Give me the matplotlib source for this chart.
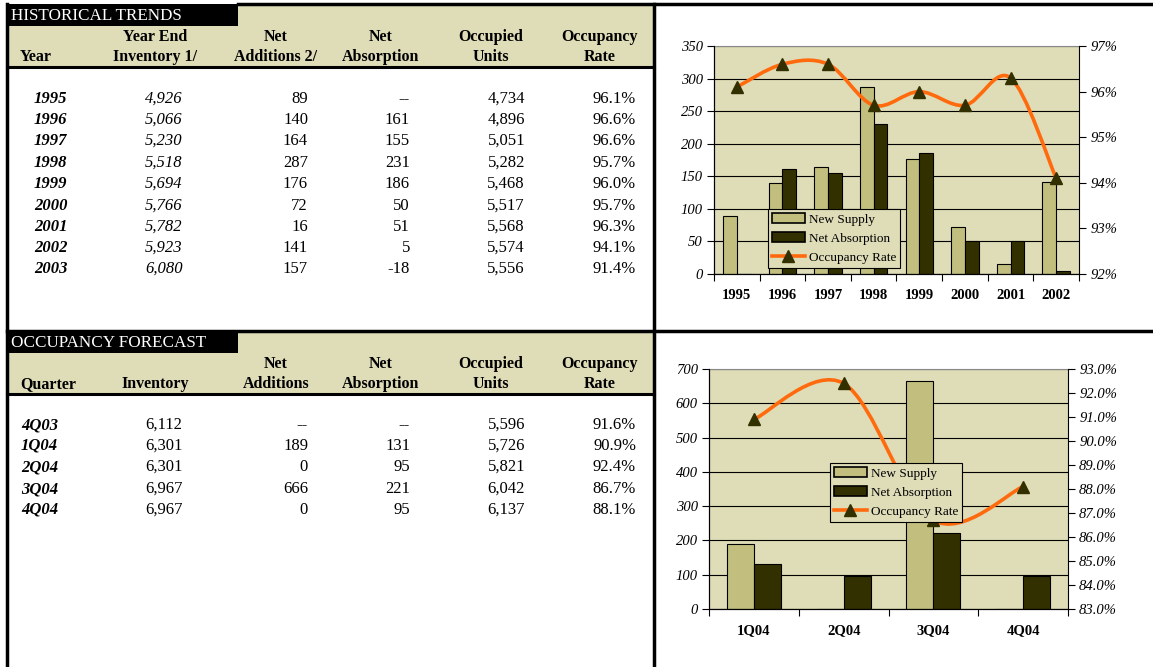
import numpy as np
import matplotlib
matplotlib.use('Agg')
import matplotlib.pyplot as plt
from matplotlib.patches import Rectangle, Patch, PathPatch
from matplotlib.lines import Line2D
from matplotlib.path import Path

plt.rcParams['font.family'] = ['Liberation Serif', 'DejaVu Serif']

# historical table
hist_years = ['1995', '1996', '1997', '1998', '1999', '2000', '2001', '2002', '2003']
hist_inventory = [4926, 5066, 5230, 5518, 5694, 5766, 5782, 5923, 6080]
hist_net_add = [89, 140, 164, 287, 176, 72, 16, 141, 157]
hist_absorption = [None, 161, 155, 231, 186, 50, 51, 5, -18]
hist_occupied = [4734, 4896, 5051, 5282, 5468, 5517, 5568, 5574, 5556]
hist_rate = [96.1, 96.6, 96.6, 95.7, 96.0, 95.7, 96.3, 94.1, 91.4]

# forecast table
fc_quarters = ['4Q03', '1Q04', '2Q04', '3Q04', '4Q04']
fc_inventory = [6112, 6301, 6301, 6967, 6967]
fc_net_add = [None, 189, 0, 666, 0]
fc_absorption = [None, 131, 95, 221, 95]
fc_occupied = [5596, 5726, 5821, 6042, 6137]
fc_rate = [91.6, 90.9, 92.4, 86.7, 88.1]

# charts use these slices
chart1_years = hist_years[:8]
chart2_quarters = fc_quarters[1:]

BEIGE = '#DFDCB8'
LIGHT = '#C2BF7E'
DARK = '#333000'
ORANGE = '#FF6A0D'
W, H = 1153, 667
TFS = 12  # table value font size
HFS = 11.5  # table header font size


def fmt(v):
    if v is None:
        return '--'
    return f'{v:,}'


def smooth_path(x, y):
    # bezier through the points, like excel's smoothed line
    x = np.asarray(x, float)
    y = np.asarray(y, float)
    n = len(x)
    verts = [(x[0], y[0])]
    codes = [Path.MOVETO]
    for i in range(n - 1):
        p0 = i - 1 if i > 0 else i
        p3 = i + 2 if i + 2 < n else i + 1
        c1 = (x[i] + (x[i + 1] - x[p0]) / 6, y[i] + (y[i + 1] - y[p0]) / 6)
        c2 = (x[i + 1] - (x[p3] - x[i]) / 6, y[i + 1] - (y[p3] - y[i]) / 6)
        verts += [c1, c2, (x[i + 1], y[i + 1])]
        codes += [Path.CURVE4] * 3
    return Path(verts, codes)


fig = plt.figure(figsize=(W / 100, H / 100), dpi=100)
bg = fig.add_axes([0, 0, 1, 1])
bg.set_xlim(0, W)
bg.set_ylim(H, 0)
bg.axis('off')


def draw_table(top, title, headers, rows, row_y, italic_col2, first_x):
    # header band
    bg.add_patch(Rectangle((238, top), 416, 62, color=BEIGE, lw=0))
    bg.add_patch(Rectangle((7, top + 21), 647, 41, color=BEIGE, lw=0))
    bg.add_patch(Rectangle((7, top - 1), 231, 22, color='black', lw=0))
    bg.text(11, top + 11, title, color='white', fontsize=12.3, ha='left', va='center')
    bg.plot([7, 654], [top + 62, top + 62], color='black', lw=2.2)
    h1, h2 = top + 32, top + 52
    bg.text(20, h2, headers[0], fontsize=HFS, fontweight='bold', ha='left', va='center')
    centers = [155, 276, 381, 491, 600]
    for cx, hd in zip(centers, headers[1:]):
        a, b = hd
        if a:
            bg.text(cx, h1, a, fontsize=HFS, fontweight='bold', ha='center', va='center')
        bg.text(cx, h2, b, fontsize=HFS, fontweight='bold', ha='center', va='center')
    labels, inv, add, absb, occ, rate = rows
    for i, y in enumerate(row_y):
        bg.text(first_x, y, labels[i], fontsize=TFS, fontweight='bold', style='italic',
                ha='left', va='center')
        bg.text(164, y, fmt(inv[i]), fontsize=TFS, ha='center', va='center',
                style='italic' if italic_col2 else 'normal')
        bg.text(308, y, fmt(add[i]), fontsize=TFS, ha='right', va='center')
        bg.text(410, y, fmt(absb[i]), fontsize=TFS, ha='right', va='center')
        bg.text(525, y, fmt(occ[i]), fontsize=TFS, ha='right', va='center')
        bg.text(636, y, f'{rate[i]:.1f}%', fontsize=TFS, ha='right', va='center')


draw_table(5, 'HISTORICAL TRENDS',
           ['Year', ('Year End', 'Inventory 1/'), ('Net', 'Additions 2/'),
            ('Net', 'Absorption'), ('Occupied', 'Units'), ('Occupancy', 'Rate')],
           [hist_years, hist_inventory, hist_net_add, hist_absorption, hist_occupied, hist_rate],
           [99, 120, 141, 163, 184, 206, 227, 248, 269], True, 34)
draw_table(332, 'OCCUPANCY FORECAST',
           ['Quarter', ('', 'Inventory'), ('Net', 'Additions'),
            ('Net', 'Absorption'), ('Occupied', 'Units'), ('Occupancy', 'Rate')],
           [fc_quarters, fc_inventory, fc_net_add, fc_absorption, fc_occupied, fc_rate],
           [425, 446, 467, 489, 510], False, 21)

# frame lines
bg.plot([238, W], [4, 4], color='black', lw=2.5)
bg.plot([7, W], [331, 331], color='black', lw=2.5)
bg.plot([7, 7], [4, H], color='black', lw=2.5)
bg.plot([654, 654], [4, H], color='black', lw=2.5)


def draw_chart(rect, cats, supply, absorb, rate, ymax, ystep, rlim, rstep, rfmt, leg_xy):
    x0, y0, x1, y1 = rect
    ax = fig.add_axes([x0 / W, 1 - y1 / H, (x1 - x0) / W, (y1 - y0) / H])
    ax.set_facecolor(BEIGE)
    n = len(cats)
    x = np.arange(n)
    sup = [0 if v is None else v for v in supply]
    ab = [0 if v is None else v for v in absorb]
    ax.bar(x, sup, width=-0.3, align='edge', color=LIGHT, edgecolor='black', lw=0.8)
    ax.bar(x, ab, width=0.3, align='edge', color=DARK, edgecolor='black', lw=0.8)
    ax.set_xlim(-0.5, n - 0.5)
    ax.set_ylim(0, ymax)
    ax.set_yticks(np.arange(0, ymax + 1, ystep))
    ax.set_axisbelow(True)
    ax.yaxis.grid(True, color='black', lw=0.8)
    ax.set_xticks(x)
    ax.set_xticklabels(cats, fontweight='bold', fontsize=10.5)
    ax.set_xticks(np.arange(n + 1) - 0.5, minor=True)
    ax.tick_params(axis='x', which='major', length=0, pad=11)
    ax.tick_params(axis='x', which='minor', length=5, width=0.8)
    ax.tick_params(axis='y', length=5, width=0.8, pad=3, labelsize=10.5)
    for lab in ax.get_yticklabels():
        lab.set_style('italic')
    ax.spines['top'].set_color('#888888')
    ax.spines['right'].set_visible(False)

    ax2 = ax.twinx()
    ax2.set_ylim(*rlim)
    ax2.set_yticks(np.arange(rlim[0], rlim[1] + 0.01, rstep))
    ax2.set_yticklabels([rfmt.format(v) for v in np.arange(rlim[0], rlim[1] + 0.01, rstep)],
                        style='italic', fontsize=10.5)
    ax2.tick_params(axis='y', length=5, width=0.8, pad=3)
    ax2.spines['top'].set_visible(False)
    ax2.spines['right'].set_color('black')
    ax2.add_patch(PathPatch(smooth_path(x, rate), fill=False, edgecolor=ORANGE, lw=2.6,
                            capstyle='round'))
    ax2.plot(x, rate, ls='none', marker='^', ms=9, color=DARK)

    handles = [Patch(facecolor=LIGHT, edgecolor='black', lw=1.2),
               Patch(facecolor=DARK, edgecolor='black', lw=1.2),
               Line2D([], [], color=ORANGE, lw=2.6, marker='^', ms=9,
                      mfc=DARK, mec=DARK)]
    leg = ax2.legend(handles, ['New Supply', 'Net Absorption', 'Occupancy Rate'],
                     loc='lower left', bbox_to_anchor=leg_xy, borderaxespad=0,
                     fontsize=9.5, frameon=True, fancybox=False, framealpha=1,
                     facecolor=BEIGE, edgecolor='black', handlelength=2.5,
                     handleheight=0.8, labelspacing=0.5, borderpad=0.3,
                     handletextpad=0.3)
    leg.get_frame().set_linewidth(0.8)


draw_chart((714, 46, 1079, 274), chart1_years, hist_net_add[:8], hist_absorption[:8],
           hist_rate[:8], 350, 50, (92, 97), 1, '{:.0f}%', (0.148, 0.026))
draw_chart((709, 369, 1068, 609), chart2_quarters, fc_net_add[1:], fc_absorption[1:],
           fc_rate[1:], 700, 100, (83, 93), 1, '{:.1f}%', (0.337, 0.3625))

fig.savefig('out.png', dpi=100)
